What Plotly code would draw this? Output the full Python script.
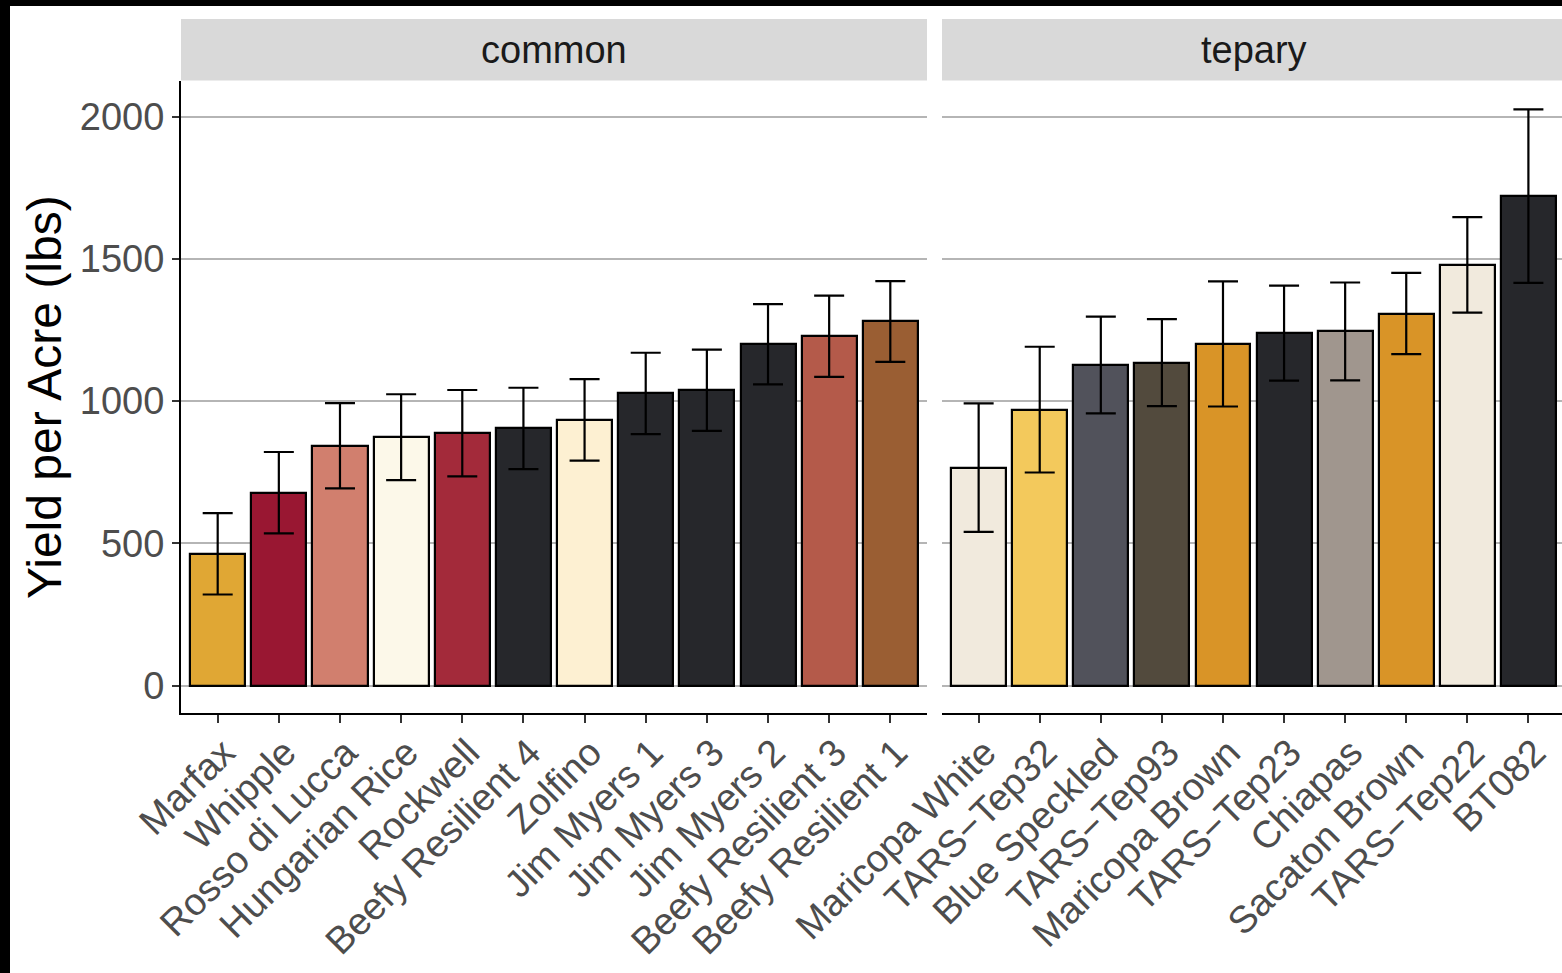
import plotly.graph_objects as go

# Mean yield per acre (lbs) and error half-widths, by bean type
common_varieties = ["Marfax", "Whipple", "Rosso di Lucca", "Hungarian Rice", "Rockwell",
                    "Beefy Resilient 4", "Zolfino", "Jim Myers 1", "Jim Myers 3",
                    "Jim Myers 2", "Beefy Resilient 3", "Beefy Resilient 1"]
common_yield = [463, 678, 843, 873, 887, 904, 934, 1027, 1038, 1200, 1228, 1280]
common_err = [143, 143, 150, 151, 152, 143, 143, 143, 143, 141, 143, 142]
common_colors = ["#E0A734", "#991732", "#D17F6E", "#FCF8E9", "#A32A3A", "#26272B",
                 "#FDF0D2", "#26272B", "#26272B", "#26272B", "#B45A4A", "#9A5E33"]

tepary_varieties = ["Maricopa White", "TARS\u2212Tep32", "Blue Speckled", "TARS\u2212Tep93",
                    "Maricopa Brown", "TARS\u2212Tep23", "Chiapas", "Sacaton Brown",
                    "TARS\u2212Tep22", "BT082"]
tepary_yield = [766, 970, 1127, 1135, 1201, 1239, 1245, 1308, 1479, 1721]
tepary_err = [226, 221, 170, 153, 220, 167, 172, 143, 168, 305]
tepary_colors = ["#F1EADD", "#F3C95C", "#51525B", "#524A3D", "#D99427", "#26272B",
                 "#A0968E", "#D99427", "#F1EADD", "#26272B"]

panel_titles = ["common", "tepary"]
y_ticks = [0, 500, 1000, 1500, 2000]

W, H = 1562, 973
FONT = "Liberation Sans, Arial, Helvetica, sans-serif"
TICK_SIZE = 38


def px_x(p):
    return p / W


def px_y(p):
    return (H - p) / H


panel_top, panel_bottom = 81, 713
left_x0, left_x1 = 181, 927
right_x0, right_x1 = 942, 1562

fig = go.Figure()


def bar_trace(cats, vals, errs, colors, xa, ya):
    return go.Bar(
        x=cats, y=vals, width=0.9,
        marker=dict(color=colors, line=dict(color="#000000", width=2.2)),
        error_y=dict(type="data", array=errs, visible=True,
                     color="#000000", thickness=2.2, width=15),
        xaxis=xa, yaxis=ya, showlegend=False,
    )


fig.add_trace(bar_trace(common_varieties, common_yield, common_err, common_colors, "x", "y"))
fig.add_trace(bar_trace(tepary_varieties, tepary_yield, tepary_err, tepary_colors, "x2", "y2"))

y_range = [-96.7, 2125.5]
y_domain = [px_y(panel_bottom), px_y(panel_top)]

xaxis_common = dict(
    type="category", categoryorder="array", showgrid=False, zeroline=False,
    showline=True, linecolor="#000000", linewidth=2,
    ticks="outside", ticklen=8, tickwidth=1.8, tickcolor="#333333",
    tickangle=-45, tickfont=dict(family=FONT, size=TICK_SIZE, color="#4D4D4D"),
    ticklabelstandoff=-8, ticklabelshift=6,
    fixedrange=True, automargin=False,
)

yaxis_common = dict(
    range=y_range, domain=y_domain, tickvals=y_ticks, zeroline=False,
    showgrid=True, gridcolor="#B5B5B5", gridwidth=1.8, fixedrange=True,
    automargin=False,
)

fig.update_layout(
    width=W, height=H,
    margin=dict(l=0, r=0, t=0, b=0, autoexpand=False),
    paper_bgcolor="#000000",
    plot_bgcolor="#FFFFFF",
    bargap=0,
    xaxis=dict(xaxis_common, domain=[px_x(left_x0), px_x(left_x1)],
               categoryarray=common_varieties, range=[-0.6, 11.6], anchor="y"),
    xaxis2=dict(xaxis_common, domain=[px_x(right_x0), px_x(right_x1)],
                categoryarray=tepary_varieties, range=[-0.6, 9.55], anchor="y2"),
    yaxis=dict(yaxis_common, anchor="x", showline=True, linecolor="#000000", linewidth=2,
               ticks="outside", ticklen=7, tickwidth=1.8, tickcolor="#333333",
               tickfont=dict(family=FONT, size=TICK_SIZE, color="#4D4D4D")),
    yaxis2=dict(yaxis_common, anchor="x2", showline=False, showticklabels=False, ticks=""),
)

# white canvas inside the dark frame
fig.add_shape(type="rect", xref="paper", yref="paper",
              x0=px_x(10), x1=1, y0=0, y1=px_y(6),
              fillcolor="#FFFFFF", line=dict(width=0), layer="below")

# facet strips
strip_top, strip_bottom = 19, 80.5
for title, (x0, x1) in zip(panel_titles, [(left_x0, left_x1), (right_x0, 1565.5)]):
    fig.add_shape(type="rect", xref="paper", yref="paper",
                  x0=px_x(x0), x1=px_x(min(x1, W)), y0=px_y(strip_bottom), y1=px_y(strip_top),
                  fillcolor="#D9D9D9", line=dict(width=0), layer="above")
    fig.add_annotation(text=title, xref="paper", yref="paper",
                       x=px_x((x0 + x1) / 2), y=px_y((strip_top + strip_bottom) / 2),
                       xanchor="center", yanchor="middle", showarrow=False,
                       font=dict(family=FONT, size=TICK_SIZE, color="#1A1A1A"))

# y-axis title
fig.add_annotation(text="Yield per Acre (lbs)", xref="paper", yref="paper",
                   x=px_x(44), y=px_y((panel_top + panel_bottom) / 2),
                   xanchor="center", yanchor="middle", textangle=-90, showarrow=False,
                   font=dict(family=FONT, size=48, color="#000000"))

fig.write_html("out.html")
